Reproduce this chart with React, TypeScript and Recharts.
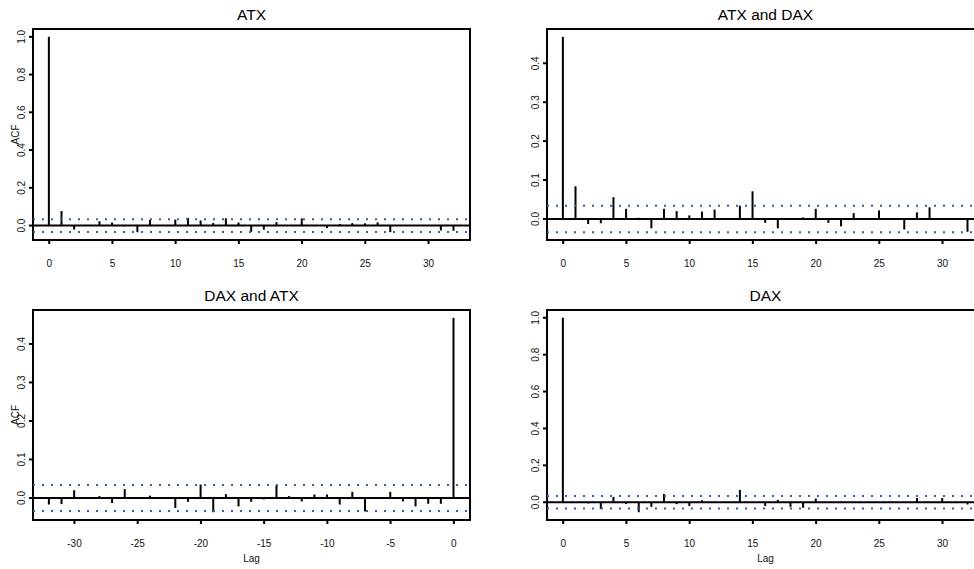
import { ComposedChart, Bar, XAxis, YAxis, ReferenceLine, ReferenceArea } from 'recharts'

const FONT = '"Liberation Sans", Arial, Helvetica, sans-serif'
const CI_COLOR = '#2c62a8'

// lags for the auto-correlations and the ATX -> DAX cross-correlation
const lagsPos = [0, 1, 2, 3, 4, 5, 6, 7, 8, 9, 10, 11, 12, 13, 14, 15, 16, 17, 18, 19, 20, 21, 22, 23, 24, 25, 26, 27, 28, 29, 30, 31, 32]
// lags for the DAX -> ATX cross-correlation
const lagsNeg = [-32, -31, -30, -29, -28, -27, -26, -25, -24, -23, -22, -21, -20, -19, -18, -17, -16, -15, -14, -13, -12, -11, -10, -9, -8, -7, -6, -5, -4, -3, -2, -1, 0]

const atxAcf = [1.0, 0.077, -0.021, 0.002, 0.023, 0.016, -0.003, -0.035, 0.03, 0.002, 0.032, 0.041, 0.027, 0.014, 0.039, 0.016, -0.033, -0.022, 0.018, 0.002, 0.038, 0.001, -0.013, 0.008, 0.013, 0.012, 0.017, -0.035, 0.003, -0.002, 0.002, -0.026, -0.027]
const atxDaxCcf = [0.468, 0.084, -0.013, -0.011, 0.056, 0.026, 0.003, -0.024, 0.026, 0.02, 0.009, 0.019, 0.024, -0.002, 0.034, 0.071, -0.01, -0.024, 0.002, 0.004, 0.026, -0.01, -0.019, 0.015, 0.001, 0.022, 0.002, -0.027, 0.017, 0.03, 0.001, 0.002, -0.033]
const daxAtxCcf = [-0.017, -0.016, 0.02, 0.001, 0.005, -0.013, 0.023, 0.001, 0.006, -0.001, -0.026, -0.01, 0.035, -0.037, 0.01, -0.022, -0.01, -0.004, 0.033, 0.005, -0.009, 0.009, 0.009, -0.017, 0.016, -0.035, -0.002, 0.016, -0.009, -0.022, -0.015, -0.015, 0.468]
const daxAcf = [1.0, -0.002, -0.006, -0.036, 0.029, -0.009, -0.054, -0.025, 0.045, -0.01, -0.02, 0.011, 0.003, 0.001, 0.067, 0.001, -0.02, 0.013, -0.025, -0.03, 0.02, 0.001, 0.003, -0.002, 0.001, -0.001, 0.003, 0.001, 0.023, 0.003, 0.023, 0.001, -0.012]

// white-noise confidence bound
const ciBound = 0.034

const xTicksPos = [0, 5, 10, 15, 20, 25, 30]
const xTicksNeg = [-30, -25, -20, -15, -10, -5, 0]
const yTicksAcf = [0, 0.2, 0.4, 0.6, 0.8, 1.0]
const yTicksCcf = [0, 0.1, 0.2, 0.3, 0.4]

// same 4% padding R applies to axis ranges
function padRange(lo: number, hi: number): [number, number] {
  const d = (hi - lo) * 0.04
  return [lo - d, hi + d]
}

const XTick = (props: any) => {
  const { x, y, payload } = props
  return (
    <text x={x} y={y} dy={7} textAnchor="middle" fontSize={10} fontFamily={FONT} fill="#111">
      {payload.value}
    </text>
  )
}

const YTick = (props: any) => {
  const { x, y, payload } = props
  return (
    <text x={x} y={y} transform={`rotate(-90 ${x} ${y})`} textAnchor="middle" fontSize={10} fontFamily={FONT} fill="#111">
      {Number(payload.value).toFixed(1)}
    </text>
  )
}

const PLOT_W = 437

interface PanelProps {
  left: number
  top: number
  yAxisWidth: number
  marginTop: number
  lags: number[]
  values: number[]
  xTicks: number[]
  yTicks: number[]
}

function AcfPanel({ left, top, yAxisWidth, marginTop, lags, values, xTicks, yTicks }: PanelProps) {
  const rows = lags.map((lag, i) => ({ lag, acf: values[i] }))
  const xDomain = padRange(Math.min(...lags), Math.max(...lags))
  const yDomain = padRange(Math.min(-ciBound, ...values), Math.max(ciBound, ...values))
  return (
    <div style={{ position: 'absolute', left, top }}>
      <ComposedChart
        width={yAxisWidth + PLOT_W + 17}
        height={280}
        data={rows}
        margin={{ top: marginTop, right: 17, bottom: 0, left: 0 }}
      >
        <XAxis
          type="number"
          dataKey="lag"
          domain={xDomain}
          ticks={xTicks}
          interval={0}
          allowDataOverflow
          axisLine={false}
          tickLine={{ stroke: '#000', strokeWidth: 2 }}
          tickSize={4}
          tickMargin={16}
          height={40}
          tick={XTick}
        />
        <YAxis
          type="number"
          domain={yDomain}
          ticks={yTicks}
          interval={0}
          allowDataOverflow
          width={yAxisWidth}
          axisLine={false}
          tickLine={{ stroke: '#000', strokeWidth: 2 }}
          tickSize={4}
          tickMargin={4}
          tick={YTick}
        />
        <ReferenceLine y={ciBound} stroke={CI_COLOR} strokeWidth={2} strokeDasharray="2 7" />
        <ReferenceLine y={-ciBound} stroke={CI_COLOR} strokeWidth={2} strokeDasharray="2 7" />
        <Bar dataKey="acf" fill="#000" barSize={2} isAnimationActive={false} />
        <ReferenceLine y={0} stroke="#000" strokeWidth={2} />
        <ReferenceArea
          x1={xDomain[0]}
          x2={xDomain[1]}
          y1={yDomain[0]}
          y2={yDomain[1]}
          fill="none"
          stroke="#000"
          strokeWidth={2}
        />
      </ComposedChart>
    </div>
  )
}

const titleStyle = { fontFamily: FONT, fontSize: 15.5, fill: '#000' }
const labelStyle = { fontFamily: FONT, fontSize: 10, fill: '#111' }

export default function App() {
  return (
    <div
      style={{
        position: 'absolute',
        left: 0,
        top: 0,
        width: 974,
        height: 569,
        overflow: 'hidden',
        background: '#fff',
      }}
    >
      <AcfPanel left={0} top={0} yAxisWidth={33} marginTop={29} lags={lagsPos} values={atxAcf} xTicks={xTicksPos} yTicks={yTicksAcf} />
      <AcfPanel left={487} top={0} yAxisWidth={60} marginTop={29} lags={lagsPos} values={atxDaxCcf} xTicks={xTicksPos} yTicks={yTicksCcf} />
      <AcfPanel left={0} top={280} yAxisWidth={33} marginTop={30} lags={lagsNeg} values={daxAtxCcf} xTicks={xTicksNeg} yTicks={yTicksCcf} />
      <AcfPanel left={487} top={280} yAxisWidth={60} marginTop={30} lags={lagsPos} values={daxAcf} xTicks={xTicksPos} yTicks={yTicksAcf} />

      <svg width={974} height={569} style={{ position: 'absolute', left: 0, top: 0, pointerEvents: 'none' }}>
        <text x={251.5} y={20} textAnchor="middle" style={titleStyle}>ATX</text>
        <text x={765.5} y={20} textAnchor="middle" style={titleStyle}>ATX and DAX</text>
        <text x={251.5} y={301} textAnchor="middle" style={titleStyle}>DAX and ATX</text>
        <text x={765.5} y={301} textAnchor="middle" style={titleStyle}>DAX</text>

        <text x={18.5} y={134.5} transform="rotate(-90 18.5 134.5)" textAnchor="middle" style={labelStyle}>ACF</text>
        <text x={18.5} y={415} transform="rotate(-90 18.5 415)" textAnchor="middle" style={labelStyle}>ACF</text>

        <text x={251.5} y={562} textAnchor="middle" style={labelStyle}>Lag</text>
        <text x={765.5} y={562} textAnchor="middle" style={labelStyle}>Lag</text>
      </svg>
    </div>
  )
}
